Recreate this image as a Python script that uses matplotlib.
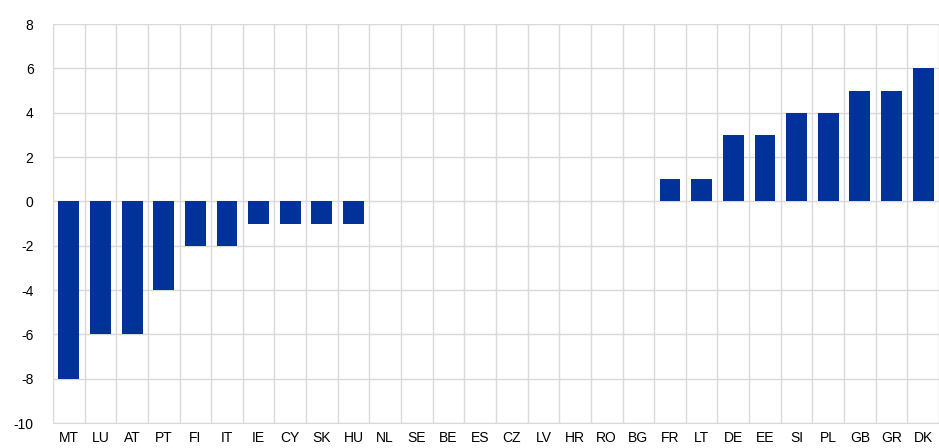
import matplotlib
matplotlib.use('Agg')
import matplotlib.pyplot as plt
import numpy as np

plt.rcParams['font.family'] = ['Liberation Sans', 'DejaVu Sans']
plt.rcParams['axes.unicode_minus'] = False

countries = ['MT', 'LU', 'AT', 'PT', 'FI', 'IT', 'IE', 'CY', 'SK', 'HU', 'NL', 'SE', 'BE', 'ES',
             'CZ', 'LV', 'HR', 'RO', 'BG', 'FR', 'LT', 'DE', 'EE', 'SI', 'PL', 'GB', 'GR', 'DK']
values = [-8, -6, -6, -4, -2, -2, -1, -1, -1, -1, 0, 0, 0, 0,
          0, 0, 0, 0, 0, 1, 1, 3, 3, 4, 4, 5, 5, 6]

fig = plt.figure(figsize=(9.39, 4.48), dpi=100)
ax = fig.add_axes([0.0564, 0.0558, 0.9436, 0.8906])

x = np.arange(len(countries))
ax.bar(x, values, width=0.66, color='#003299', zorder=3)

ax.set_xlim(-0.5, len(countries) - 0.5)
ax.set_ylim(-10, 8)
ax.set_yticks(np.arange(-10, 9, 2))
ax.set_xticks(x)
ax.set_xticklabels(countries)
ax.set_xticks(np.arange(-0.5, len(countries), 1), minor=True)

ax.grid(axis='y', which='major', color='#d9d9d9', linewidth=1, zorder=0)
ax.grid(axis='x', which='minor', color='#d9d9d9', linewidth=1, zorder=0)
ax.tick_params(axis='both', which='both', length=0, labelsize=10, colors='black')
ax.tick_params(axis='y', pad=14)
ax.tick_params(axis='x', pad=6)
for s in ax.spines.values():
    s.set_visible(False)
ax.spines['left'].set_visible(True)
ax.spines['left'].set_color('#d9d9d9')
ax.spines['bottom'].set_visible(True)
ax.spines['bottom'].set_color('#d9d9d9')

fig.savefig('out.png', dpi=100)
